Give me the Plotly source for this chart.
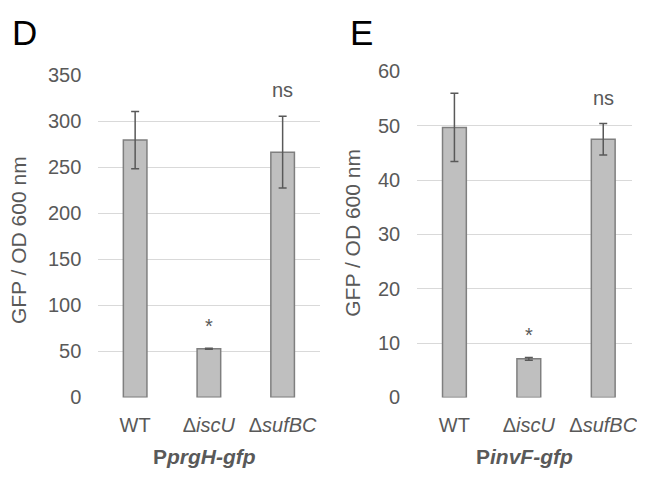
import plotly.graph_objects as go

categories = ["WT", "Δ<i>iscU</i>", "Δ<i>sufBC</i>"]
prgH_values = [279.5, 52.8, 266.4]
prgH_errors = [31.0, 0.6, 39.0]
prgH_labels = ["", "*", "ns"]
invF_values = [49.7, 7.1, 47.5]
invF_errors = [6.3, 0.25, 2.9]
invF_labels = ["", "*", "ns"]
prgH_ticks = [0, 50, 100, 150, 200, 250, 300, 350]
invF_ticks = [0, 10, 20, 30, 40, 50, 60]

FONT = "Liberation Sans, Arial, sans-serif"
TXT = "#595959"
BAR = "#bfbfbf"
EDGE = "#7f7f7f"
GRID = "#d9d9d9"

# page body has an 8px margin on every side; keep the whole page inside
# the 645x485 window and lay everything out in window pixels
OFF = 8
W, H = 645 - 2 * OFF, 485 - 2 * OFF
def px(X):
    return (X - OFF) / W
def py(Y):
    return 1 - (Y - OFF) / H

fig = go.Figure()

def add_bars(vals, errs, xa, ya):
    fig.add_trace(go.Bar(
        x=categories, y=vals, xaxis=xa, yaxis=ya, width=0.32,
        marker=dict(color=BAR, line=dict(color=EDGE, width=1.5)),
        error_y=dict(type="data", array=errs, visible=True, color=TXT,
                     thickness=1.5, width=4),
        showlegend=False, hoverinfo="skip"))

add_bars(prgH_values, prgH_errors, "x", "y")
add_bars(invF_values, invF_errors, "x2", "y2")

axis_common = dict(showgrid=True, gridcolor=GRID, gridwidth=1.3, zeroline=False,
                   showline=False, ticks="", ticklabelstandoff=16,
                   tickfont=dict(family=FONT, size=20, color=TXT))
xcommon = dict(showgrid=False, zeroline=False, showline=False, ticks="",
               ticklabelstandoff=14,
               tickfont=dict(family=FONT, size=20, color=TXT))

step2 = (645.5 - 420.5) / 3.0  # px per category on the right panel
fig.update_layout(
    width=W, height=H,
    margin=dict(l=0, r=0, t=0, b=0),
    paper_bgcolor="white", plot_bgcolor="white",
    xaxis=dict(domain=[px(99), px(322)], anchor="y", range=[-0.5, 2.5], **xcommon),
    yaxis=dict(domain=[py(405), py(67)], anchor="x", range=[0, 350],
               tickvals=prgH_ticks, **axis_common),
    xaxis2=dict(domain=[px(420.5), 1.0], anchor="y2",
                range=[-0.5, -0.5 + (W + OFF - 420.5) / step2], **xcommon),
    yaxis2=dict(domain=[py(405), py(63)], anchor="x2", range=[0, 60],
                tickvals=invF_ticks, **axis_common),
)

ann = []
for xa, ya, vals, errs, labs in [("x", "y", prgH_values, prgH_errors, prgH_labels),
                                 ("x2", "y2", invF_values, invF_errors, invF_labels)]:
    for c, v, e, l in zip(categories, vals, errs, labs):
        if not l:
            continue
        ann.append(dict(x=c, y=v + e, xref=xa, yref=ya, text=l, showarrow=False,
                        yanchor="bottom", yshift=(13 if l == "ns" else 9),
                        font=dict(family=FONT, size=20, color=TXT)))

# panel letters
ann.append(dict(x=px(10), y=py(22), xref="paper", yref="paper", text="D", showarrow=False,
                xanchor="left", yanchor="middle", font=dict(family=FONT, size=35, color="black")))
ann.append(dict(x=px(351), y=py(22), xref="paper", yref="paper", text="E", showarrow=False,
                xanchor="left", yanchor="middle", font=dict(family=FONT, size=35, color="black")))
# y titles
ann.append(dict(x=px(18), y=py(240), xref="paper", yref="paper", text="GFP / OD 600 nm",
                showarrow=False, textangle=-90, xanchor="center", yanchor="middle",
                font=dict(family=FONT, size=21, color=TXT)))
ann.append(dict(x=px(355), y=py(232), xref="paper", yref="paper", text="GFP / OD 600 nm",
                showarrow=False, textangle=-90, xanchor="center", yanchor="middle",
                font=dict(family=FONT, size=21, color=TXT)))
# x titles
ann.append(dict(x=px(206), y=py(467), xref="paper", yref="paper",
                text="<b>P<i>prgH-gfp</i></b>", showarrow=False, xanchor="center", yanchor="middle",
                font=dict(family=FONT, size=21, color=TXT)))
ann.append(dict(x=px(529), y=py(467), xref="paper", yref="paper",
                text="<b>P<i>invF-gfp</i></b>", showarrow=False, xanchor="center", yanchor="middle",
                font=dict(family=FONT, size=21, color=TXT)))
fig.update_layout(annotations=ann)

fig.write_html("out.html")
